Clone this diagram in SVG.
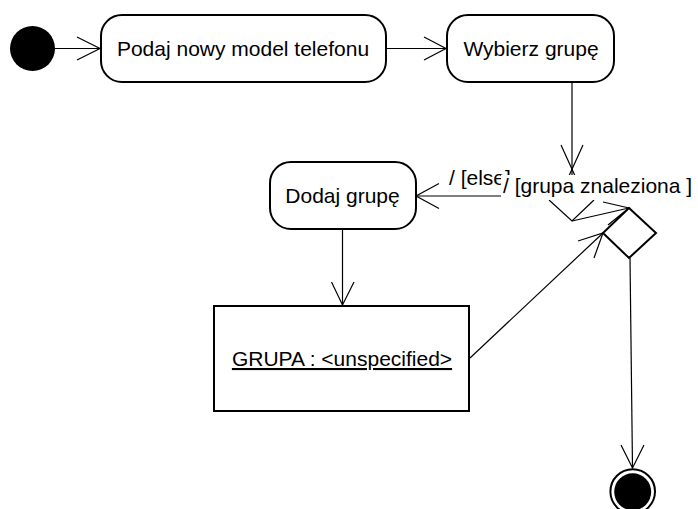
<svg xmlns="http://www.w3.org/2000/svg" width="698" height="509" viewBox="0 0 698 509">
  <style>
    .action { fill: #ffffff; stroke: #000000; stroke-width: 2; }
    .label { font-family: "Liberation Sans", Arial, sans-serif; font-size: 21px; fill: #000000; }
    .edge { fill: none; stroke: #000000; stroke-width: 1.2; }
    .head { fill: none; stroke: #000000; stroke-width: 1.2; }
  </style>
  <rect width="698" height="509" fill="#ffffff"/>

  <!-- transitions -->
  <g id="connectors">
    <!-- start -> Podaj nowy model telefonu -->
    <line class="edge" x1="55" y1="48.5" x2="101" y2="48.5"/>
    <polyline class="head" points="77,37 100,48.5 77,60"/>
    <!-- Podaj nowy model telefonu -> Wybierz grupe -->
    <line class="edge" x1="386" y1="48.5" x2="447" y2="48.5"/>
    <polyline class="head" points="424,37 446,48.5 424,60"/>
    <!-- Wybierz grupe -> decision -->
    <line class="edge" x1="572" y1="82" x2="572" y2="178"/>
    <line class="head" x1="561" y1="145" x2="576" y2="178"/>
    <line class="head" x1="583" y1="145" x2="568" y2="178"/>
    <polyline class="head" points="549,200 572,221 594,200"/>
    <line class="edge" x1="572" y1="221" x2="629" y2="208"/>
    <polyline class="head" points="603,202 629,208 608,225"/>
    <!-- decision -> Dodaj grupe -->
    <line class="edge" x1="560" y1="196" x2="416" y2="196"/>
    <polyline class="head" points="439,183.5 416,196 439,208.5"/>
    <text class="label" x="449" y="185">/ [else]</text>
    <!-- guard of the found branch -->
    <rect x="501" y="175" width="196" height="25" fill="#ffffff"/>
    <text class="label" x="503" y="193">/ [grupa znaleziona ]</text>
    <!-- Dodaj grupe -> GRUPA -->
    <line class="edge" x1="342.5" y1="229" x2="342.5" y2="306"/>
    <polyline class="head" points="331.5,282 342.5,305 354,282"/>
    <!-- GRUPA -> decision -->
    <line class="edge" x1="470" y1="358" x2="603" y2="233"/>
    <polyline class="head" points="578,241 603,233 594,258"/>
    <!-- decision -> final -->
    <line class="edge" x1="630" y1="258" x2="632.5" y2="468"/>
    <polyline class="head" points="621,445 632.5,468 644,445"/>
  </g>

  <g id="start">
    <circle cx="32.5" cy="48.5" r="22.5" fill="#000000"/>
  </g>

  <g id="podaj-model">
    <rect class="action" x="101" y="15" width="285" height="67" rx="21" ry="21"/>
    <text class="label" x="243" y="56" text-anchor="middle">Podaj nowy model telefonu</text>
  </g>

  <g id="wybierz-grupe">
    <rect class="action" x="447" y="15" width="167" height="67" rx="21" ry="21"/>
    <text class="label" x="531" y="56" text-anchor="middle">Wybierz grupę</text>
  </g>

  <g id="dodaj-grupe">
    <rect class="action" x="270" y="162" width="146" height="67" rx="21" ry="21"/>
    <text class="label" x="342.5" y="203" text-anchor="middle">Dodaj grupę</text>
  </g>

  <g id="grupa">
    <rect class="action" x="214" y="306" width="255" height="105"/>
    <text class="label" x="342" y="366" text-anchor="middle" text-decoration="underline">GRUPA : &lt;unspecified&gt;</text>
  </g>

  <g id="decision">
    <polygon class="action" points="629,208 656,233 629,258 603,233"/>
  </g>

  <g id="final">
    <circle cx="632.7" cy="491.6" r="22.3" fill="#ffffff" stroke="#000000" stroke-width="2"/>
    <circle cx="632.7" cy="491.8" r="18.5" fill="#000000"/>
  </g>
</svg>
